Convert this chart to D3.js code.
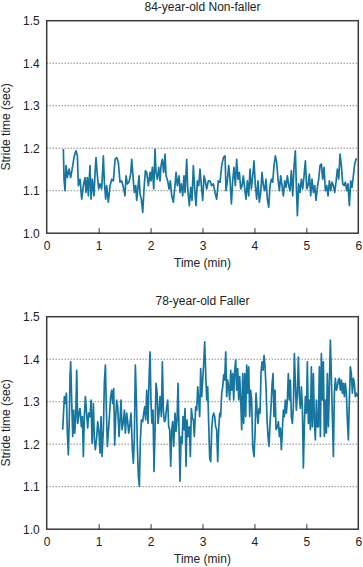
<!DOCTYPE html>
<html lang="en">
<head>
<meta charset="utf-8">
<title>Stride time</title>
<script src="https://cdn.jsdelivr.net/npm/d3@7"></script>
<style>
  body { margin: 0; background: #fff; }
  svg text { font-family: "Liberation Sans", Arial, sans-serif; fill: #222; }
</style>
</head>
<body>
<svg id="chart" width="363" height="567"></svg>
<script>
// tick labels
var xTicks = [0, 1, 2, 3, 4, 5, 6];
var yTicks = [1.0, 1.1, 1.2, 1.3, 1.4, 1.5];
var gridTicks = [1.1, 1.2, 1.3, 1.4];

// panel titles
var titles = ["84-year-old Non-faller", "78-year-old Faller"];

// 84-year-old non-faller: time (min) and stride time (sec)
var nonfallerTime = [0.321,0.334,0.353,0.372,0.398,0.430,0.462,0.501,0.526,0.546,0.565,0.591,0.610,0.642,0.674,0.706,0.738,0.757,0.783,0.802,
  0.834,0.854,0.879,0.911,0.931,0.950,0.976,1.001,1.027,1.059,1.091,1.110,1.136,1.155,1.187,1.220,1.252,1.284,1.316,1.348,
  1.380,1.412,1.444,1.476,1.508,1.528,1.553,1.585,1.617,1.637,1.669,1.688,1.714,1.733,1.752,1.778,1.797,1.823,1.849,1.874,
  1.900,1.926,1.958,1.990,2.009,2.035,2.061,2.086,2.105,2.131,2.157,2.182,2.202,2.227,2.253,2.279,2.298,2.330,2.356,2.381,
  2.407,2.439,2.471,2.491,2.516,2.548,2.567,2.593,2.619,2.644,2.664,2.696,2.715,2.747,2.773,2.798,2.824,2.850,2.875,2.901,
  2.927,2.952,2.978,3.004,3.030,3.055,3.081,3.113,3.145,3.177,3.209,3.241,3.273,3.305,3.338,3.370,3.402,3.434,3.453,3.479,
  3.504,3.530,3.556,3.581,3.607,3.633,3.658,3.684,3.710,3.736,3.761,3.787,3.813,3.838,3.864,3.890,3.915,3.941,3.967,3.992,
  4.018,4.044,4.069,4.095,4.121,4.146,4.172,4.198,4.223,4.249,4.275,4.300,4.326,4.352,4.377,4.403,4.429,4.454,4.480,4.506,
  4.531,4.557,4.583,4.608,4.634,4.660,4.685,4.711,4.737,4.763,4.788,4.807,4.827,4.852,4.878,4.904,4.929,4.955,4.981,5.006,
  5.032,5.058,5.083,5.109,5.135,5.160,5.186,5.212,5.237,5.263,5.289,5.314,5.340,5.366,5.392,5.417,5.443,5.469,5.494,5.520,
  5.546,5.571,5.597,5.623,5.648,5.674,5.700,5.725,5.751,5.777,5.802,5.828,5.854,5.879,5.905,5.931,5.956,5.969];
var nonfallerStride = [1.198,1.126,1.100,1.159,1.131,1.151,1.131,1.159,1.178,1.188,1.194,1.182,1.112,1.127,1.080,1.112,1.131,1.096,1.131,1.088,
  1.159,1.080,1.127,1.088,1.143,1.178,1.135,1.104,1.116,1.104,1.182,1.120,1.080,1.112,1.073,1.112,1.127,1.123,1.174,1.178,
  1.166,1.120,1.123,1.108,1.088,1.135,1.116,1.120,1.139,1.174,1.123,1.096,1.112,1.077,1.100,1.135,1.092,1.080,1.049,1.104,
  1.147,1.143,1.112,1.143,1.123,1.155,1.104,1.198,1.143,1.127,1.155,1.123,1.159,1.174,1.143,1.186,1.135,1.123,1.104,1.123,
  1.088,1.073,1.112,1.143,1.112,1.135,1.096,1.116,1.088,1.135,1.096,1.174,1.104,1.065,1.108,1.077,1.159,1.104,1.065,1.123,
  1.112,1.151,1.112,1.077,1.135,1.123,1.104,1.123,1.123,1.112,1.116,1.096,1.080,1.123,1.120,1.159,1.178,1.182,1.100,1.123,
  1.159,1.127,1.069,1.123,1.155,1.112,1.174,1.127,1.143,1.104,1.112,1.135,1.104,1.080,1.123,1.088,1.151,1.104,1.135,1.170,
  1.112,1.080,1.123,1.073,1.096,1.143,1.112,1.100,1.127,1.080,1.061,1.112,1.127,1.120,1.159,1.182,1.166,1.127,1.100,1.135,
  1.112,1.088,1.123,1.108,1.135,1.112,1.100,1.147,1.088,1.159,1.194,1.112,1.041,1.116,1.096,1.127,1.104,1.135,1.170,1.104,
  1.112,1.139,1.088,1.127,1.096,1.112,1.077,1.108,1.127,1.159,1.163,1.127,1.155,1.100,1.112,1.088,1.123,1.100,1.120,1.112,
  1.096,1.120,1.151,1.127,1.186,1.159,1.116,1.112,1.120,1.100,1.116,1.065,1.123,1.108,1.135,1.163,1.174,1.176];

// 78-year-old faller: time (min) and stride time (sec)
var fallerTime = [0.308,0.321,0.340,0.359,0.379,0.398,0.417,0.436,0.449,0.462,0.481,0.501,0.520,0.539,0.558,0.578,0.597,0.623,0.642,0.668,
  0.687,0.706,0.725,0.745,0.770,0.789,0.809,0.834,0.854,0.873,0.899,0.918,0.937,0.963,0.982,1.008,1.027,1.046,1.065,1.091,
  1.110,1.130,1.149,1.168,1.187,1.207,1.232,1.252,1.271,1.290,1.309,1.329,1.348,1.367,1.393,1.412,1.431,1.451,1.476,1.496,
  1.515,1.540,1.560,1.579,1.605,1.624,1.650,1.669,1.688,1.707,1.727,1.746,1.765,1.784,1.804,1.823,1.849,1.868,1.887,1.906,
  1.926,1.951,1.970,1.990,2.009,2.028,2.047,2.067,2.086,2.105,2.125,2.144,2.163,2.182,2.208,2.227,2.246,2.266,2.285,2.311,
  2.330,2.349,2.368,2.388,2.407,2.426,2.445,2.471,2.490,2.510,2.529,2.548,2.567,2.587,2.606,2.625,2.644,2.664,2.683,2.702,
  2.721,2.747,2.766,2.786,2.805,2.824,2.843,2.869,2.888,2.908,2.927,2.946,2.965,2.985,3.004,3.023,3.042,3.062,3.081,3.100,
  3.119,3.139,3.158,3.177,3.196,3.216,3.235,3.254,3.273,3.293,3.312,3.331,3.350,3.370,3.389,3.408,3.427,3.447,3.466,3.485,
  3.504,3.524,3.543,3.562,3.581,3.601,3.620,3.639,3.659,3.678,3.697,3.716,3.736,3.755,3.774,3.793,3.813,3.832,3.851,3.870,
  3.890,3.909,3.928,3.947,3.967,3.992,4.012,4.031,4.050,4.069,4.089,4.108,4.127,4.146,4.166,4.185,4.204,4.223,4.243,4.262,
  4.281,4.300,4.320,4.339,4.358,4.377,4.397,4.416,4.442,4.461,4.480,4.499,4.519,4.538,4.557,4.576,4.596,4.615,4.634,4.653,
  4.673,4.692,4.711,4.730,4.750,4.769,4.788,4.807,4.827,4.846,4.865,4.884,4.904,4.923,4.942,4.962,4.981,5.000,5.019,5.039,
  5.058,5.077,5.096,5.116,5.135,5.154,5.173,5.193,5.212,5.231,5.250,5.270,5.289,5.308,5.327,5.347,5.366,5.385,5.404,5.424,
  5.443,5.462,5.481,5.501,5.520,5.539,5.558,5.578,5.597,5.616,5.635,5.655,5.674,5.693,5.712,5.732,5.751,5.770,5.789,5.809,
  5.828,5.847,5.866,5.886,5.905,5.924,5.943,5.963,5.982];
var fallerStride = [1.234,1.265,1.312,1.296,1.320,1.226,1.175,1.265,1.359,1.394,1.304,1.218,1.280,1.226,1.261,1.374,1.249,1.273,1.284,1.241,
  1.265,1.171,1.265,1.312,1.269,1.238,1.273,1.265,1.304,1.202,1.296,1.210,1.187,1.218,1.253,1.226,1.179,1.265,1.171,1.234,
  1.343,1.386,1.280,1.195,1.226,1.265,1.312,1.327,1.296,1.331,1.198,1.265,1.304,1.288,1.218,1.257,1.304,1.234,1.253,1.280,
  1.226,1.273,1.253,1.226,1.249,1.273,1.187,1.155,1.218,1.386,1.304,1.195,1.124,1.101,1.210,1.257,1.253,1.273,1.288,1.257,
  1.327,1.249,1.351,1.417,1.296,1.249,1.280,1.136,1.234,1.343,1.323,1.249,1.273,1.312,1.265,1.394,1.280,1.253,1.257,1.288,
  1.304,1.241,1.234,1.148,1.234,1.253,1.195,1.273,1.230,1.257,1.343,1.234,1.113,1.218,1.202,1.265,1.234,1.284,1.148,1.257,
  1.218,1.241,1.171,1.284,1.261,1.257,1.218,1.288,1.280,1.335,1.304,1.265,1.378,1.312,1.351,1.390,1.441,1.366,1.304,1.335,
  1.249,1.167,1.159,1.234,1.265,1.273,1.265,1.241,1.234,1.159,1.234,1.273,1.265,1.320,1.335,1.363,1.351,1.417,1.312,1.351,
  1.335,1.304,1.374,1.327,1.366,1.304,1.374,1.398,1.327,1.378,1.304,1.359,1.304,1.234,1.366,1.249,1.366,1.265,1.386,1.320,
  1.382,1.265,1.327,1.304,1.195,1.171,1.226,1.320,1.280,1.249,1.284,1.273,1.366,1.394,1.374,1.409,1.382,1.335,1.257,1.218,
  1.195,1.249,1.288,1.339,1.366,1.265,1.327,1.234,1.241,1.253,1.218,1.238,1.187,1.234,1.280,1.265,1.304,1.273,1.304,1.366,
  1.304,1.351,1.265,1.249,1.288,1.413,1.343,1.280,1.320,1.405,1.312,1.284,1.335,1.288,1.144,1.249,1.312,1.273,1.394,1.249,
  1.304,1.234,1.382,1.241,1.366,1.257,1.210,1.304,1.241,1.241,1.382,1.218,1.413,1.304,1.394,1.218,1.304,1.226,1.366,1.241,
  1.335,1.445,1.359,1.265,1.171,1.320,1.355,1.327,1.335,1.351,1.355,1.327,1.351,1.320,1.343,1.312,1.343,1.320,1.257,1.210,
  1.304,1.382,1.366,1.320,1.355,1.343,1.312,1.320,1.312];

var seriesTime = [nonfallerTime, fallerTime];
var seriesStride = [nonfallerStride, fallerStride];

var svg = d3.select("#chart");
var left = 46.7, right = 358.3, plotH = 212.5;
var panelTops = [20.7, 316.7];
var lineColor = "#17759f";
var fontSize = "12px";

var x = d3.scaleLinear().domain([0, 6]).range([left, right]);

panelTops.forEach(function(top, p) {
  var y = d3.scaleLinear().domain([1.0, 1.5]).range([top + plotH, top]);
  var g = svg.append("g");

  // title (kept inside the page at the very top)
  g.append("text")
    .attr("x", (left + right) / 2)
    .attr("y", Math.max(top - 12, 11))
    .attr("text-anchor", "middle")
    .style("font-size", fontSize)
    .text(titles[p]);

  // dotted gridlines
  g.selectAll(".grid")
    .data(gridTicks)
    .enter().append("line")
    .attr("x1", left).attr("x2", right)
    .attr("y1", function(d) { return y(d); })
    .attr("y2", function(d) { return y(d); })
    .attr("stroke", "#555")
    .attr("stroke-width", 1)
    .attr("stroke-dasharray", "1,2");

  // y axis labels
  var yAxis = d3.axisLeft(y).tickValues(yTicks).tickSize(0).tickPadding(7)
    .tickFormat(d3.format(".1f"));
  var ya = g.append("g").attr("transform", "translate(" + left + ",0)").call(yAxis);
  ya.select(".domain").remove();
  ya.selectAll("text").style("font-size", fontSize).attr("fill", "#222");

  // x axis, ticks pointing inward
  var xAxis = d3.axisBottom(x).tickValues(xTicks).tickSize(0).tickPadding(8)
    .tickFormat(d3.format("d"));
  var xa = g.append("g").attr("transform", "translate(0," + (top + plotH) + ")").call(xAxis);
  xa.select(".domain").remove();
  xa.selectAll("text").style("font-size", fontSize).attr("fill", "#222");
  xa.selectAll(".tick").filter(function(d) { return d > 0 && d < 6; })
    .append("line").attr("y1", 0).attr("y2", -5)
    .attr("stroke", "#333").attr("stroke-width", 1);

  // axis titles
  g.append("text")
    .attr("x", (left + right) / 2)
    .attr("y", top + plotH + 34)
    .attr("text-anchor", "middle")
    .style("font-size", fontSize)
    .text("Time (min)");
  g.append("text")
    .attr("transform", "translate(10," + (top + plotH / 2) + ") rotate(-90)")
    .attr("text-anchor", "middle")
    .style("font-size", fontSize)
    .text("Stride time (sec)");

  // data line
  var pts = seriesTime[p].map(function(t, i) { return [t, seriesStride[p][i]]; });
  g.append("path")
    .datum(pts)
    .attr("fill", "none")
    .attr("stroke", lineColor)
    .attr("stroke-width", 1.7)
    .attr("stroke-linejoin", "round")
    .attr("d", d3.line().x(function(d) { return x(d[0]); }).y(function(d) { return y(d[1]); }));

  // frame
  g.append("rect")
    .attr("x", left).attr("y", top)
    .attr("width", right - left).attr("height", plotH)
    .attr("fill", "none")
    .attr("stroke", "#3a3a3a")
    .attr("stroke-width", 1.5);
});
</script>
</body>
</html>
